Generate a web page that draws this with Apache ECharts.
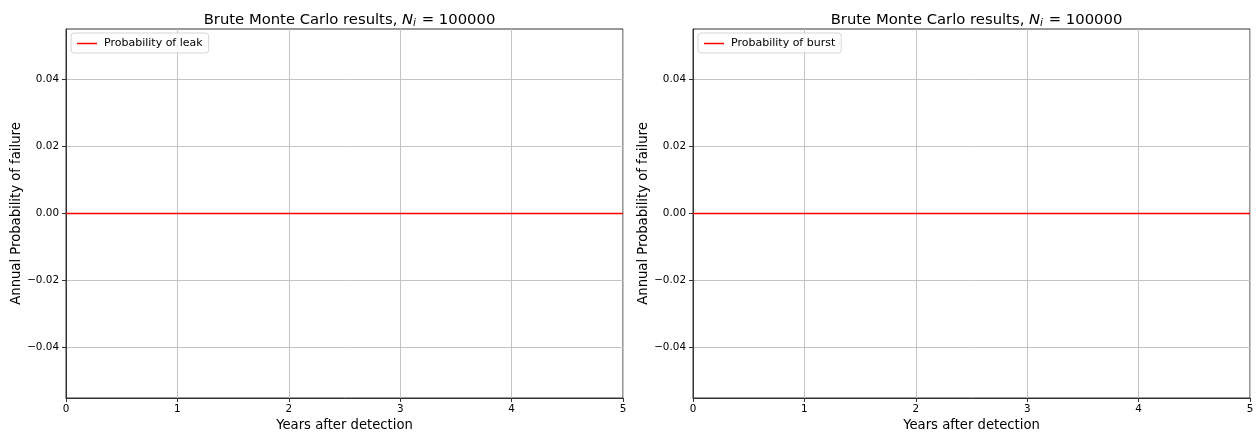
<!DOCTYPE html>
<html>
<head>
<meta charset="utf-8">
<script src="https://cdn.jsdelivr.net/npm/echarts@6/dist/echarts.min.js"></script>
<style>
  html, body { margin: 0; padding: 0; background: #fff; }
  #chart { width: 1258px; height: 437px; }
</style>
</head>
<body>
<div id="chart"></div>
<script>
// Years after detection and the simulated annual failure probabilities
const years = [0, 1, 2, 3, 4, 5];
const leakProbability = [0, 0, 0, 0, 0, 0];
const burstProbability = [0, 0, 0, 0, 0, 0];
const xTickValues = [0, 1, 2, 3, 4, 5];
const yTickValues = [-0.04, -0.02, 0.00, 0.02, 0.04];
const sampleCount = 100000;

const FONT = 'DejaVu Sans';
const chart = echarts.init(document.getElementById('chart'), null, { renderer: 'canvas' });

const fmtY = v => (v < 0 ? '\u2212' : '') + Math.abs(v).toFixed(2);

function xAxisFor(gridIndex) {
  return {
    gridIndex, type: 'value', min: 0, max: 5, interval: 1,
    name: 'Years after detection', nameLocation: 'middle', nameGap: 20,
    nameTextStyle: { fontFamily: FONT, fontSize: 13.2, color: '#000', verticalAlign: 'top' },
    axisLine: { show: true, onZero: false, lineStyle: { color: '#333', width: 1 } },
    axisTick: { show: true, inside: false, length: 4, lineStyle: { color: '#333' } },
    axisLabel: { fontFamily: FONT, fontSize: 10.4, color: '#000', margin: 6,
                 customValues: xTickValues, formatter: v => String(v) },
    splitLine: { show: true, lineStyle: { color: '#c4c4c4', width: 1 } }
  };
}
function yAxisFor(gridIndex) {
  return {
    gridIndex, type: 'value', min: -0.055, max: 0.055,
    name: 'Annual Probability of failure', nameLocation: 'middle', nameGap: 42,
    nameTextStyle: { fontFamily: FONT, fontSize: 13.2, color: '#000' },
    axisLine: { show: true, onZero: false, lineStyle: { color: '#333', width: 1 } },
    axisTick: { show: true, inside: false, length: 4, customValues: yTickValues, lineStyle: { color: '#333' } },
    axisLabel: { fontFamily: FONT, fontSize: 10.4, color: '#000', margin: 7,
                 customValues: yTickValues, formatter: fmtY },
    splitLine: { show: true, customValues: yTickValues, lineStyle: { color: '#c4c4c4', width: 1 } }
  };
}
function titleFor(cx) {
  return {
    left: cx, top: 6, textAlign: 'center',
    text: 'Brute Monte Carlo results, {it|N}{sub|i}{eq| = }' + sampleCount,
    textStyle: {
      fontFamily: FONT, fontSize: 14.8, fontWeight: 'normal', color: '#000',
      rich: {
        it: { fontFamily: FONT, fontSize: 14.8, fontStyle: 'italic', color: '#000' },
        sub: { fontFamily: FONT, fontSize: 10.5, fontStyle: 'italic', color: '#000', padding: [7, 1, 0, 0] },
        eq: { fontFamily: FONT, fontSize: 14.8, color: '#000' }
      }
    }
  };
}
function legendFor(left, name) {
  return {
    left, top: 33, orient: 'vertical', data: [name],
    icon: 'rect', itemWidth: 20, itemHeight: 1.5, itemGap: 5,
    padding: [5, 6, 4, 6],
    backgroundColor: 'rgba(255,255,255,0.8)', borderColor: '#d6d6d6', borderWidth: 1, borderRadius: 3,
    textStyle: { fontFamily: FONT, fontSize: 11, color: '#000', padding: [0, 0, 0, 2] }
  };
}

const pair = (xs, ys) => xs.map((x, i) => [x, ys[i]]);

chart.setOption({
  animation: false,
  backgroundColor: '#fff',
  title: [titleFor(344.5), titleFor(971.5)],
  legend: [legendFor(71, 'Probability of leak'), legendFor(698, 'Probability of burst')],
  grid: [
    { left: 66, right: 635, top: 29, bottom: 39, show: true, borderColor: '#333', borderWidth: 1, backgroundColor: 'transparent' },
    { left: 693, right: 8, top: 29, bottom: 39, show: true, borderColor: '#333', borderWidth: 1, backgroundColor: 'transparent' }
  ],
  xAxis: [xAxisFor(0), xAxisFor(1)],
  yAxis: [yAxisFor(0), yAxisFor(1)],
  series: [
    { name: 'Probability of leak', type: 'line', xAxisIndex: 0, yAxisIndex: 0,
      data: pair(years, leakProbability), showSymbol: false, color: '#ff0000',
      lineStyle: { width: 1.5, color: '#ff0000' } },
    { name: 'Probability of burst', type: 'line', xAxisIndex: 1, yAxisIndex: 1,
      data: pair(years, burstProbability), showSymbol: false, color: '#ff0000',
      lineStyle: { width: 1.5, color: '#ff0000' } }
  ]
});
</script>
</body>
</html>
